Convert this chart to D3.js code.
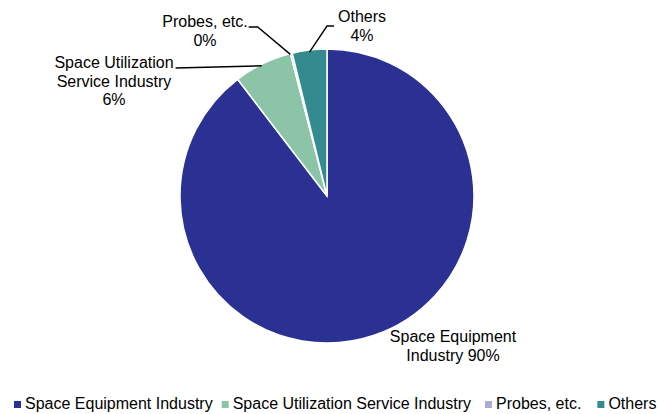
<!DOCTYPE html>
<html><head><meta charset="utf-8">
<script src="https://cdn.jsdelivr.net/npm/d3@7"></script>
<style>body{margin:0;background:#fff}svg{display:block}text{font-family:"Liberation Sans",Arial,sans-serif;fill:#000}</style>
</head><body><svg id="c" width="658" height="414"></svg>
<script>
const categories = ["Space Equipment Industry", "Space Utilization Service Industry", "Probes, etc.", "Others"];
const values = [89.6, 6.4, 0.2, 3.8];
const labelLines = [["Space Equipment", "Industry 90%"], ["Space Utilization", "Service Industry", "6%"], ["Probes, etc.", "0%"], ["Others", "4%"]];
const colors = ["#2a3192", "#8bc4a6", "#a9acd8", "#348b8f"];

const svg = d3.select("#c");
const cx = 327, cy = 196, R = 147;
const data = categories.map((c, i) => ({c, v: values[i], i}));
const pie = d3.pie().value(d => d.v).sort(null);
const arcs = pie(data);
const arc = d3.arc().innerRadius(0).outerRadius(R);
const g = svg.append("g").attr("transform", `translate(${cx},${cy})`);
g.selectAll("path").data(arcs).join("path")
  .attr("d", arc).attr("fill", (d, i) => colors[i])
  .attr("stroke", "#fff").attr("stroke-width", 1.5);

const fs = 16;
const labelPos = [
  {x: 453, y: 342, lh: 18.5, line: null},
  {x: 114, y: 68, lh: 18.5, line: "util"},
  {x: 205, y: 27, lh: 19, line: "right"},
  {x: 362, y: 22, lh: 18.5, line: "left"}
];
labelPos.forEach((p, i) => {
  const t = svg.append("text").attr("text-anchor", "middle").attr("font-size", fs);
  labelLines[i].forEach((s, k) => t.append("tspan").attr("x", p.x).attr("y", p.y + k * p.lh).text(s));
  if (p.line) {
    const a = arcs[i];
    const mid = (a.startAngle + a.endAngle) / 2;
    const ex = cx + Math.sin(mid) * R, ey = cy - Math.cos(mid) * R;
    const firstW = t.select("tspan").node().getComputedTextLength();
    let pts;
    if (p.line === "util") {
      const sx = p.x + firstW / 2 + 2;
      pts = [[sx, p.y], [ex - 1, ey + 2]];
    } else if (p.line === "right") {
      const sx = p.x + firstW / 2 + 1;
      pts = [[sx, p.y], [sx + 9, p.y], [ex - 1, ey + 1]];
    } else {
      const sx = p.x - firstW / 2 - 4;
      pts = [[sx, p.y + 4], [sx - 7, p.y + 4], [ex, ey + 2]];
    }
    svg.append("path").attr("d", d3.line()(pts)).attr("fill", "none").attr("stroke", "#000").attr("stroke-width", 1.4);
  }
});

// legend
const leg = svg.append("g");
let x = 0;
const gaps = [9, 14, 16, 0];
categories.forEach((c, i) => {
  const it = leg.append("g").attr("transform", `translate(${x},0)`);
  it.append("rect").attr("x", 0).attr("y", -8).attr("width", 7).attr("height", 7).attr("fill", colors[i]);
  const tt = it.append("text").attr("x", 11).attr("y", 0).attr("font-size", fs).text(c);
  x += 11 + tt.node().getComputedTextLength() + gaps[i];
});
leg.attr("transform", `translate(14,409)`);
</script></body></html>
